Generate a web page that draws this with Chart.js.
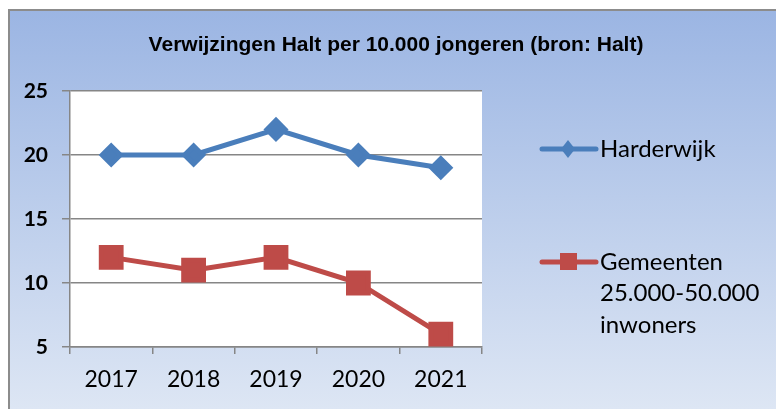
<!DOCTYPE html>
<html>
<head>
<meta charset="utf-8">
<script src="https://cdn.jsdelivr.net/npm/chart.js@4.4.0/dist/chart.umd.min.js"></script>
<style>
  body { margin: 0; background: #fff; }
  #wrap { width: 776px; height: 409px; }
</style>
</head>
<body>
<div id="wrap"><canvas id="lineChart"></canvas></div>
<script>
const years = ["2017", "2018", "2019", "2020", "2021"];
const harderwijk = [20, 20, 22, 20, 19];
const gemeenten = [12, 11, 12, 10, 6];
const seriesNames = ["Harderwijk", ["Gemeenten", "25.000-50.000", "inwoners"]];
const titleText = "Verwijzingen Halt per 10.000 jongeren (bron: Halt)";

const blue = "#4a7ebb";
const red = "#be4b48";
const gridGray = "#868686";

// background frame, white plot area, title
const framePlugin = {
  id: 'frame',
  beforeDraw(chart) {
    const ctx = chart.ctx;
    const a = chart.chartArea;
    ctx.save();
    const g = ctx.createLinearGradient(0, 9, 0, 409);
    g.addColorStop(0, "#9bb5e3");
    g.addColorStop(1, "#dde6f4");
    ctx.fillStyle = g;
    ctx.fillRect(8, 9, 768, 400);
    ctx.strokeStyle = "#8c8c8c";
    ctx.lineWidth = 2;
    ctx.beginPath();
    ctx.moveTo(9, 409);
    ctx.lineTo(9, 10);
    ctx.lineTo(776, 10);
    ctx.stroke();
    ctx.fillStyle = "#fff";
    ctx.fillRect(a.left, a.top, a.right - a.left, a.bottom - a.top);

    ctx.fillStyle = "#000";
    ctx.font = "bold 21px 'Liberation Sans'";
    ctx.textAlign = "center";
    ctx.textBaseline = "alphabetic";
    ctx.fillText(titleText, 396, 51);
    ctx.restore();
  }
};

// legend on the right, with wrapped label
const legendPlugin = {
  id: 'sideLegend',
  afterDraw(chart) {
    const ctx = chart.ctx;
    const rows = [149, 262];
    ctx.save();
    chart.data.datasets.forEach((ds, i) => {
      const y = rows[i];
      ctx.strokeStyle = ds.borderColor;
      ctx.lineWidth = 5;
      ctx.lineCap = "round";
      ctx.beginPath();
      ctx.moveTo(542, y);
      ctx.lineTo(596, y);
      ctx.stroke();
      ctx.fillStyle = ds.borderColor;
      if (ds.pointStyle === 'rectRot') {
        ctx.beginPath();
        ctx.moveTo(568, y - 9);
        ctx.lineTo(575, y);
        ctx.lineTo(568, y + 9);
        ctx.lineTo(561, y);
        ctx.closePath();
        ctx.fill();
      } else {
        ctx.fillRect(560, y - 9, 17, 17);
      }
      const lines = [].concat(seriesNames[i]);
      ctx.fillStyle = "#000";
      ctx.font = "24px Lato";
      ctx.textAlign = "left";
      ctx.textBaseline = "middle";
      lines.forEach((t, k) => ctx.fillText(t, 600, y + k * 31.5));
    });
    ctx.restore();
  }
};

new Chart(document.getElementById("lineChart"), {
  type: 'line',
  data: {
    labels: years,
    datasets: [{
      label: "Harderwijk",
      data: harderwijk,
      borderColor: blue,
      backgroundColor: blue,
      borderWidth: 5,
      pointStyle: 'rectRot',
      pointRadius: 9,
      pointHoverRadius: 9,
      tension: 0
    }, {
      label: "Gemeenten 25.000-50.000 inwoners",
      data: gemeenten,
      borderColor: red,
      backgroundColor: red,
      borderWidth: 5,
      pointStyle: 'rect',
      pointRadius: 14,
      pointHoverRadius: 14,
      tension: 0
    }]
  },
  options: {
    responsive: true,
    maintainAspectRatio: false,
    animation: false,
    layout: { padding: { left: 8, right: 294, top: 91, bottom: 0 } },
    plugins: {
      legend: { display: false },
      title: { display: false },
      tooltip: { enabled: false }
    },
    scales: {
      x: {
        offset: true,
        afterFit: (s) => { s.height = 62; },
        grid: { offset: true, drawOnChartArea: false, drawTicks: true, tickLength: 7, color: gridGray, lineWidth: 1.5 },
        border: { color: gridGray, width: 1.5 },
        ticks: { color: "#000", font: { family: "Lato", size: 23 }, padding: 12 }
      },
      y: {
        min: 5,
        max: 25,
        afterFit: (s) => { s.width = 62; },
        grid: { color: gridGray, lineWidth: 1.5, tickLength: 8 },
        border: { color: gridGray, width: 1.5 },
        ticks: { stepSize: 5, color: "#000", font: { family: "Lato", size: 21, weight: 'bold' }, padding: 14 }
      }
    }
  },
  plugins: [framePlugin, legendPlugin]
});
</script>
</body>
</html>
